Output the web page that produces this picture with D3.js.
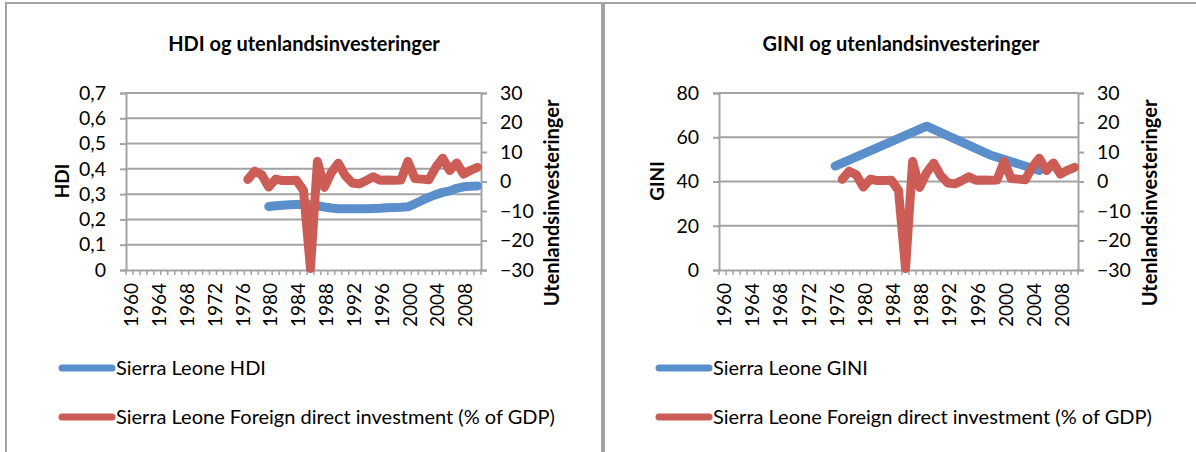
<!DOCTYPE html>
<html>
<head>
<meta charset="utf-8">
<script src="https://cdn.jsdelivr.net/npm/d3@7"></script>
<style>
  body { margin: 0; background: #fff; }
  svg { display: block; font-family: Lato, "DejaVu Sans", sans-serif; }
</style>
</head>
<body>
<script>
const W = 1196;
const H = 452;
const Tpad = 93;
const Bpad = 270;

// categories on the x axis
const years = d3.range(1960, 2011);
const yearLabels = [1960, 1964, 1968, 1972, 1976, 1980, 1984, 1988, 1992, 1996, 2000, 2004, 2008];

// Sierra Leone HDI, 1980-2010
const hdiYears = d3.range(1980, 2011);
const hdi = [0.251, 0.254, 0.256, 0.258, 0.259, 0.260, 0.258, 0.254, 0.249, 0.245,
             0.242, 0.242, 0.242, 0.242, 0.242, 0.243, 0.244, 0.246, 0.247, 0.248,
             0.250, 0.262, 0.275, 0.287, 0.298, 0.307, 0.313, 0.323, 0.329, 0.331, 0.332];

// Sierra Leone GINI (only the years with data)
const giniYears = [1976, 1989, 1998, 2005];
const gini = [47, 65, 52, 45];

// Foreign direct investment (% of GDP), 1977-2010
const fdiYears = d3.range(1977, 2011);
const fdi = [0.7, 3.5, 2.3, -1.9, 0.8, 0.3, 0.3, 0.4, -3.0, -29.5,
             6.8, -2.0, 3.0, 6.2, 2.0, -0.5, -0.8, 0.3, 1.6, 0.4,
             0.5, 0.4, 0.5, 6.8, 1.0, 0.8, 0.6, 4.8, 7.9, 3.7,
             6.3, 2.5, 3.8, 4.8];

const hdiTicks = [0, 0.1, 0.2, 0.3, 0.4, 0.5, 0.6, 0.7];
const giniTicks = [0, 20, 40, 60, 80];
const fdiTicks = [-30, -20, -10, 0, 10, 20, 30];

const blue = "#5b8fcb";
const red = "#cc5c56";
const gridColor = "#a3a3a3";

const svg = d3.select("body")
  .append("svg")
  .attr("width", W)
  .attr("height", H);

// panel borders
svg.append("rect")
  .attr("x", 6).attr("y", 3).attr("width", 596).attr("height", 470)
  .attr("fill", "none").attr("stroke", gridColor).attr("stroke-width", 2);
svg.append("rect")
  .attr("x", 604).attr("y", 3).attr("width", 610).attr("height", 470)
  .attr("fill", "none").attr("stroke", gridColor).attr("stroke-width", 2);

function comma(d) {
  return d === 0 ? "0" : d3.format(".1f")(d).replace(".", ",");
}

function drawChart(c) {
  const g = svg.append("g");

  const xScale = d3.scaleBand()
    .domain(years)
    .range([c.Lpad, c.Rpad]);
  const bw = xScale.bandwidth();

  const yScale = d3.scaleLinear()
    .domain(c.leftDomain)
    .range([Bpad, Tpad]);

  const y2Scale = d3.scaleLinear()
    .domain([-30, 30])
    .range([Bpad, Tpad]);

  // gridlines
  g.selectAll(".grid")
    .data(c.leftTicks.slice(1))
    .enter()
    .append("line")
    .attr("x1", c.Lpad).attr("x2", c.Rpad)
    .attr("y1", d => yScale(d)).attr("y2", d => yScale(d))
    .attr("stroke", gridColor).attr("stroke-width", 2);

  // left axis
  const yAxis = d3.axisLeft(yScale)
    .tickValues(c.leftTicks)
    .tickFormat(c.format)
    .tickSize(6)
    .tickPadding(14);
  g.append("g")
    .attr("transform", `translate(${c.Lpad},0)`)
    .call(yAxis);

  // right axis
  const y2Axis = d3.axisRight(y2Scale)
    .tickValues(fdiTicks)
    .tickSize(6)
    .tickPadding(13);
  g.append("g")
    .attr("transform", `translate(${c.Rpad},0)`)
    .call(y2Axis);

  // x axis, one tick per category edge
  const xAxis = d3.axisBottom(xScale)
    .tickValues(years)
    .tickFormat("")
    .tickSize(0);
  g.append("g")
    .attr("transform", `translate(0,${Bpad})`)
    .call(xAxis);

  g.selectAll(".xtick")
    .data(years.concat([2011]))
    .enter()
    .append("line")
    .attr("x1", d => c.Lpad + (d - 1960) * bw)
    .attr("x2", d => c.Lpad + (d - 1960) * bw)
    .attr("y1", Bpad).attr("y2", Bpad + 5)
    .attr("stroke", gridColor).attr("stroke-width", 1.5);

  g.selectAll(".xlabel")
    .data(yearLabels)
    .enter()
    .append("text")
    .attr("transform", d => `translate(${xScale(d) + bw / 2 + 2},${Bpad + 13}) rotate(-90)`)
    .attr("text-anchor", "end")
    .attr("dy", "0.35em")
    .style("font-size", "19px")
    .text(d => d);

  g.selectAll(".domain, .tick line")
    .attr("stroke", gridColor).attr("stroke-width", 2);
  g.selectAll(".tick text")
    .style("font-size", "19.5px")
    .style("font-family", "Lato")
    .attr("fill", "#000");

  // series
  const line = d3.line()
    .x(d => xScale(d[0]) + bw / 2);

  g.append("path")
    .datum(c.blueYears.map((yr, i) => [yr, c.blueValues[i]]))
    .attr("d", line.y(d => yScale(d[1])))
    .attr("fill", "none").attr("stroke", blue).attr("stroke-width", 9)
    .attr("stroke-linejoin", "round").attr("stroke-linecap", "round");

  g.append("path")
    .datum(fdiYears.map((yr, i) => [yr, fdi[i]]))
    .attr("d", line.y(d => y2Scale(d[1])))
    .attr("fill", "none").attr("stroke", red).attr("stroke-width", 9)
    .attr("stroke-linejoin", "round").attr("stroke-linecap", "round");

  // titles
  g.append("text")
    .attr("x", c.titleX).attr("y", 51)
    .attr("text-anchor", "middle")
    .style("font-size", "20px").style("font-weight", "bold")
    .text(c.title);

  g.append("text")
    .attr("transform", `translate(${c.yTitleX},181) rotate(-90)`)
    .attr("text-anchor", "middle").attr("dy", "0.35em")
    .style("font-size", "19px").style("font-weight", "bold")
    .text(c.yTitle);

  g.append("text")
    .attr("transform", `translate(${c.y2TitleX},203) rotate(-90)`)
    .attr("text-anchor", "middle").attr("dy", "0.35em")
    .style("font-size", "20px").style("font-weight", "bold")
    .text("Utenlandsinvesteringer");

  // legend
  const legend = g.append("g");
  const items = [[c.blueName, blue, 368], ["Sierra Leone Foreign direct investment (% of GDP)", red, 417]];
  items.forEach(([name, col, ly]) => {
    legend.append("line")
      .attr("x1", c.legendX).attr("x2", c.legendX + 50)
      .attr("y1", ly).attr("y2", ly)
      .attr("stroke", col).attr("stroke-width", 7)
      .attr("stroke-linecap", "round");
    legend.append("text")
      .attr("x", c.legendX + 54).attr("y", ly)
      .attr("dy", "0.35em")
      .style("font-size", "20px")
      .text(name);
  });
}

drawChart({
  Lpad: 126, Rpad: 481,
  leftDomain: [0, 0.7], leftTicks: hdiTicks, format: comma,
  blueYears: hdiYears, blueValues: hdi, blueName: "Sierra Leone HDI",
  title: "HDI og utenlandsinvesteringer", titleX: 304,
  yTitle: "HDI", yTitleX: 62, y2TitleX: 552, legendX: 62
});

drawChart({
  Lpad: 719, Rpad: 1078,
  leftDomain: [0, 80], leftTicks: giniTicks, format: d => d,
  blueYears: giniYears, blueValues: gini, blueName: "Sierra Leone GINI",
  title: "GINI og utenlandsinvesteringer", titleX: 901,
  yTitle: "GINI", yTitleX: 657, y2TitleX: 1150, legendX: 659
});
</script>
</body>
</html>
